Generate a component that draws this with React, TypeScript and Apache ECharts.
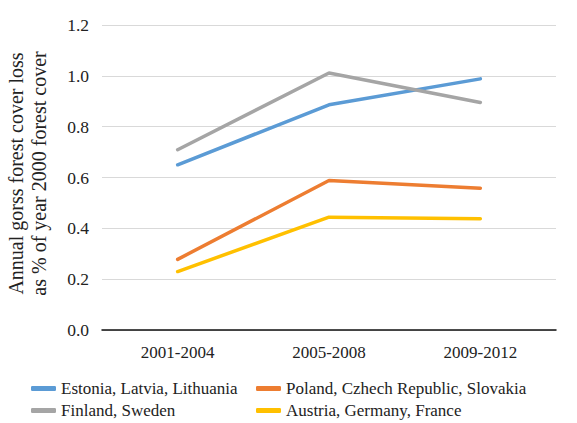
import React, { useEffect, useRef } from "react";
import * as echarts from "echarts";

const categories = ["2001-2004", "2005-2008", "2009-2012"];
const seriesNames = [
  "Estonia, Latvia, Lithuania",
  "Poland, Czhech Republic, Slovakia",
  "Finland, Sweden",
  "Austria, Germany, France",
];
const baltic = [0.65, 0.886, 0.988];
const central = [0.278, 0.588, 0.558];
const nordic = [0.709, 1.011, 0.895];
const western = [0.23, 0.444, 0.438];
const colors = ["#5B9BD5", "#ED7D31", "#A5A5A5", "#FFC000"];

const FONT = "'Liberation Serif', 'Times New Roman', serif";

const legendPos = [
  { left: 31, top: 380 },
  { left: 256, top: 380 },
  { left: 31, top: 402 },
  { left: 256, top: 402 },
];

export default function App() {
  const ref = useRef<HTMLDivElement>(null);
  useEffect(() => {
    if (!ref.current) return;
    const chart = echarts.init(ref.current, null, { renderer: "svg" });
    const values = [baltic, central, nordic, western];
    chart.setOption({
      animation: false,
      textStyle: { fontFamily: FONT },
      grid: {
        left: 102,
        right: 21,
        top: 25,
        bottom: 93,
        containLabel: false,
        outerBoundsMode: "none",
      },
      legend: seriesNames.map((name, i) => ({
        left: legendPos[i].left,
        top: legendPos[i].top,
        padding: 0,
        itemWidth: 25,
        itemHeight: 5,
        icon: "roundRect",
        data: [name],
        textStyle: { fontFamily: FONT, fontSize: 17, color: "#222" },
      })),
      xAxis: {
        type: "category",
        data: categories,
        boundaryGap: true,
        axisLine: { lineStyle: { color: "#111", width: 1.5 } },
        axisTick: { show: false },
        axisLabel: { fontFamily: FONT, fontSize: 17, color: "#222", margin: 14 },
      },
      yAxis: {
        type: "value",
        min: 0,
        max: 1.2,
        interval: 0.2,
        name: "Annual gorss forest cover loss\nas % of year 2000 forest cover",
        nameLocation: "middle",
        nameGap: 52,
        nameRotate: 90,
        nameTextStyle: {
          fontFamily: FONT,
          fontSize: 20,
          color: "#222",
          lineHeight: 23,
          padding: [0, 0, 0, 8],
        },
        axisLine: { show: false },
        axisTick: { show: false },
        axisLabel: {
          fontFamily: FONT,
          fontSize: 17.5,
          color: "#222",
          margin: 13,
          formatter: (v: number) => v.toFixed(1),
        },
        splitLine: { lineStyle: { color: "#D9D9D9", width: 1 } },
      },
      series: seriesNames.map((name, i) => ({
        name,
        type: "line",
        data: values[i],
        symbol: "none",
        lineStyle: { color: colors[i], width: 3.5, cap: "round" },
        itemStyle: { color: colors[i] },
      })),
    });
    return () => chart.dispose();
  }, []);
  return (
    <div
      ref={ref}
      style={{ position: "fixed", left: 0, top: 0, width: 577, height: 423, background: "#fff" }}
    />
  );
}
